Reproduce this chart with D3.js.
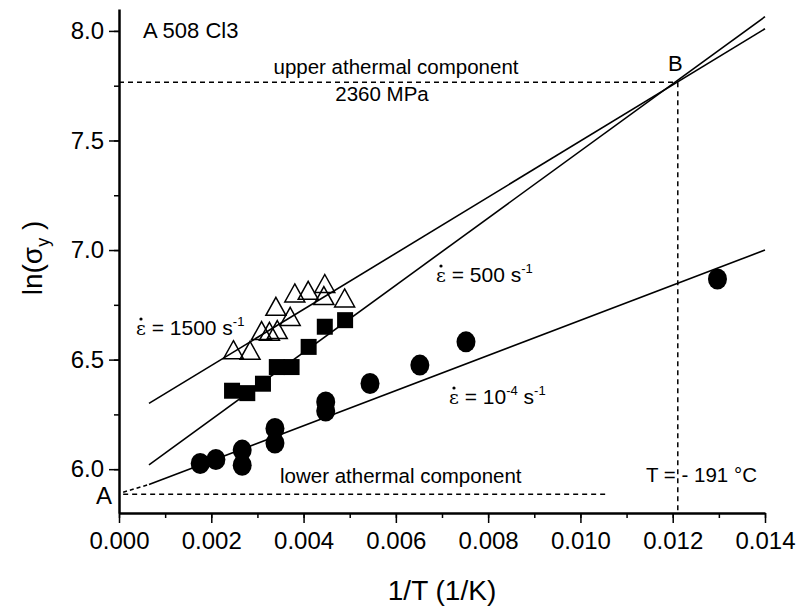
<!DOCTYPE html>
<html>
<head>
<meta charset="utf-8">
<script src="https://cdn.jsdelivr.net/npm/d3@7"></script>
<style>
  body { margin: 0; background: #fff; }
  svg text { font-family: "Liberation Sans", Arial, sans-serif; fill: #000; }
</style>
</head>
<body>
<div id="vis"></div>
<script>

var width = 801;
var height = 612;

// open triangles, 1500 1/s
var triX = [0.00248, 0.00284, 0.00309, 0.00326, 0.00343, 0.00371, 0.00340, 0.00381, 0.00410, 0.00446, 0.00444, 0.00489];
var triY = [6.543, 6.540, 6.630, 6.627, 6.635, 6.695, 6.741, 6.802, 6.814, 6.845, 6.790, 6.779];

// filled squares, 500 1/s
var sqX = [0.00245, 0.00278, 0.00312, 0.00342, 0.00374, 0.00411, 0.00446, 0.00490];
var sqY = [6.358, 6.347, 6.390, 6.466, 6.466, 6.558, 6.650, 6.680];

// filled circles, 1e-4 1/s
var cirX = [0.00176, 0.00210, 0.00267, 0.00267, 0.00338, 0.00338, 0.00448, 0.00448, 0.00544, 0.00652, 0.00752, 0.01297];
var cirY = [6.026, 6.044, 6.087, 6.018, 6.186, 6.119, 6.307, 6.265, 6.391, 6.475, 6.581, 6.868];

// fitted lines, ends
var fitX = [0.00065, 0.014];
var fit1500 = [6.30, 8.01];
var fit500 = [6.02, 8.065];
var fit1e4 = [5.93, 7.00];

var pointA = [0.00009, 5.895];
var pointB = [0.01211, 7.766];
var lowerLevel = 5.885;
var lowerEnd = 0.0106;

var xTicks = [0, 0.002, 0.004, 0.006, 0.008, 0.010, 0.012, 0.014];
var yTicks = [6.0, 6.5, 7.0, 7.5, 8.0];

var x = d3.scaleLinear().domain([0, 0.014]).range([119, 765]);
var y = d3.scaleLinear().domain([5.8, 8.1]).range([513, 9]);

var svg = d3.select('#vis').append('svg')
  .attr('width', width)
  .attr('height', height);

// axes
var xMinor = d3.range(0, 0.01401, 0.001);
var yMinor = d3.range(5.75, 8.0001, 0.25).filter(function(d) { return d > 5.8; });

svg.append('g')
  .attr('transform', 'translate(0,' + y.range()[0] + ')')
  .call(d3.axisBottom(x).tickValues(xMinor).tickSize(5).tickFormat('').tickSizeOuter(0))
  .call(function(g) { g.select('.domain').remove(); })
  .selectAll('line').attr('stroke-width', 1.5);

svg.append('g')
  .attr('transform', 'translate(' + x.range()[0] + ',0)')
  .call(d3.axisLeft(y).tickValues(yMinor).tickSize(5).tickFormat('').tickSizeOuter(0))
  .call(function(g) { g.select('.domain').remove(); })
  .selectAll('line').attr('stroke-width', 1.5);

var xAxis = svg.append('g')
  .attr('transform', 'translate(0,' + y.range()[0] + ')')
  .call(d3.axisBottom(x).tickValues(xTicks).tickSize(10).tickSizeOuter(0).tickPadding(9)
    .tickFormat(d3.format('.3f')));

var yAxis = svg.append('g')
  .attr('transform', 'translate(' + x.range()[0] + ',0)')
  .call(d3.axisLeft(y).tickValues(yTicks).tickSize(10).tickSizeOuter(0).tickPadding(5)
    .tickFormat(d3.format('.1f')));

[xAxis, yAxis].forEach(function(g) {
  g.select('.domain').attr('stroke-width', 2.5);
  g.selectAll('.tick line').attr('stroke-width', 1.5);
  g.selectAll('.tick text').style('font-size', '24px').attr('fill', '#000');
});

// dashed guides
var dash = '5,4';
svg.append('line')
  .attr('x1', x(0)).attr('y1', y(pointB[1]))
  .attr('x2', x(pointB[0])).attr('y2', y(pointB[1]))
  .attr('stroke', '#000').attr('stroke-width', 1.5).attr('stroke-dasharray', dash);
svg.append('line')
  .attr('x1', x(pointB[0])).attr('y1', y(pointB[1]))
  .attr('x2', x(pointB[0])).attr('y2', y(5.8))
  .attr('stroke', '#000').attr('stroke-width', 1.5).attr('stroke-dasharray', dash);
svg.append('line')
  .attr('x1', x(pointA[0])).attr('y1', y(lowerLevel))
  .attr('x2', x(lowerEnd)).attr('y2', y(lowerLevel))
  .attr('stroke', '#000').attr('stroke-width', 1.5).attr('stroke-dasharray', dash);
svg.append('line')
  .attr('x1', x(pointA[0])).attr('y1', y(pointA[1]))
  .attr('x2', x(fitX[0])).attr('y2', y(fit1e4[0]))
  .attr('stroke', '#000').attr('stroke-width', 1.5).attr('stroke-dasharray', '4,3');

// fit lines
var line = d3.line()
  .x(function(d) { return x(d[0]); })
  .y(function(d) { return y(d[1]); });

[fit1500, fit500, fit1e4].forEach(function(f) {
  svg.append('path')
    .attr('d', line(fitX.map(function(v, i) { return [v, f[i]]; })))
    .attr('fill', 'none')
    .attr('stroke', '#000')
    .attr('stroke-width', 1.6);
});

// markers
svg.selectAll('.tri')
  .data(triX.map(function(v, i) { return [v, triY[i]]; }))
  .enter().append('path')
  .attr('class', 'tri')
  .attr('d', function(d) {
    var cx = x(d[0]), cy = y(d[1]);
    return 'M' + cx + ',' + (cy - 9.5) + 'L' + (cx + 10) + ',' + (cy + 8.5) + 'L' + (cx - 10) + ',' + (cy + 8.5) + 'Z';
  })
  .attr('fill', 'none')
  .attr('stroke', '#000')
  .attr('stroke-width', 1.5);

svg.selectAll('.sq')
  .data(sqX.map(function(v, i) { return [v, sqY[i]]; }))
  .enter().append('rect')
  .attr('class', 'sq')
  .attr('x', function(d) { return x(d[0]) - 8; })
  .attr('y', function(d) { return y(d[1]) - 8; })
  .attr('width', 16)
  .attr('height', 16)
  .attr('fill', '#000');

svg.selectAll('.cir')
  .data(cirX.map(function(v, i) { return [v, cirY[i]]; }))
  .enter().append('ellipse')
  .attr('class', 'cir')
  .attr('cx', function(d) { return x(d[0]); })
  .attr('cy', function(d) { return y(d[1]); })
  .attr('rx', 9.5)
  .attr('ry', 10.5)
  .attr('fill', '#000');

// texts
function label(tx, ty, str, size, anchor) {
  return svg.append('text')
    .attr('x', tx).attr('y', ty)
    .attr('text-anchor', anchor || 'start')
    .style('font-size', size + 'px')
    .text(str);
}

label(143, 38, 'A 508 Cl3', 22);
label(396, 74, 'upper athermal component', 20.5, 'middle');
label(382, 101, '2360 MPa', 20.5, 'middle');
label(668, 71, 'B', 22);
label(96, 504, 'A', 24);
label(280, 483, 'lower athermal component', 20.5);
label(646, 482, 'T = - 191 \u00b0C', 20.5);

function rateLabel(tx, ty, num, sup) {
  // dot over the epsilon (rate)
  svg.append('circle')
    .attr('cx', tx + 5).attr('cy', ty - 16)
    .attr('r', 1.6)
    .attr('fill', '#000');
  var t = svg.append('text')
    .attr('x', tx).attr('y', ty)
    .style('font-size', '21px');
  t.append('tspan').style('font-family', '"DejaVu Serif", serif').style('font-size', '19px').text('\u03b5');
  t.append('tspan').text(' = ' + num);
  if (sup) {
    t.append('tspan').attr('dy', -9).style('font-size', '13px').text(sup);
    t.append('tspan').attr('dy', 9).text(' s');
  } else {
    t.append('tspan').text(' s');
  }
  t.append('tspan').attr('dy', -9).style('font-size', '13px').text('-1');
}

rateLabel(136, 335, '1500');
rateLabel(436, 282, '500');
rateLabel(449, 404, '10', '-4');

// axis titles
label(442, 600, '1/T (1/K)', 28, 'middle');

var yl = svg.append('text')
  .attr('transform', 'translate(42,258) rotate(-90)')
  .attr('text-anchor', 'middle')
  .style('font-size', '28px');
yl.append('tspan').text('ln(\u03c3');
yl.append('tspan').attr('dy', 7).style('font-size', '18px').text('y');
yl.append('tspan').attr('dy', -7).text(' )');

</script>
</body>
</html>
